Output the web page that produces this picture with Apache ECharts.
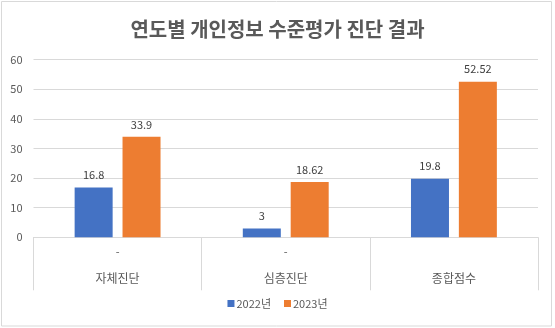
<!DOCTYPE html>
<html><head><meta charset="utf-8">
<script src="https://cdn.jsdelivr.net/npm/echarts@6/dist/echarts.min.js"></script>
<style>html,body{margin:0;padding:0;background:#fff}#c{width:555px;height:328px}</style>
</head><body><div id="c"></div>
<script>
const title = '연도별 개인정보 수준평가 진단 결과';
const categories = ['자체진단', '심층진단', '종합점수'];
const subLabels = ['-', '-', ''];
const seriesNames = ['2022년', '2023년'];
const values2022 = [16.8, 3, 19.8];
const values2023 = [33.9, 18.62, 52.52];
const yTicks = { min: 0, max: 60, interval: 10 };

const FONT = '"Noto Sans CJK KR", "Noto Sans", sans-serif';
const chart = echarts.init(document.getElementById('c'), null, { renderer: 'canvas' });
const labelOpt = { show: true, position: 'top', distance: 7, color: '#404040', fontSize: 11, fontFamily: FONT };
chart.setOption({
  animation: false,
  textStyle: { fontFamily: FONT },
  graphic: [{ type: 'rect', shape: { x: 1.5, y: 1.5, width: 550, height: 324.5 }, style: { fill: 'none', stroke: '#d9d9d9', lineWidth: 1 }, silent: true }],
  title: { text: title, left: 'center', top: 14, textStyle: { fontSize: 20, fontWeight: 'bold', color: '#595959', fontFamily: FONT } },
  grid: { left: 33.5, right: 17, top: 59.5, bottom: 90.7 },
  legend: {
    bottom: 14, left: 'center', itemWidth: 7, itemHeight: 7, itemGap: 13,
    icon: 'rect',
    textStyle: { fontSize: 11, color: '#595959', fontFamily: FONT, padding: [0, 0, 0, -3] },
    data: seriesNames
  },
  xAxis: {
    type: 'category', data: categories,
    axisLine: { show: true, lineStyle: { color: '#d9d9d9' } },
    axisTick: { show: true, length: 53, lineStyle: { color: '#d9d9d9' } },
    axisLabel: {
      margin: 8, interval: 0,
      formatter: (v, i) => '{a|' + (subLabels[i] || ' ') + '}\n{b|' + v + '}',
      rich: {
        a: { fontSize: 11, color: '#595959', lineHeight: 14, fontFamily: FONT },
        b: { fontSize: 12, color: '#595959', lineHeight: 38, fontFamily: FONT }
      }
    }
  },
  yAxis: {
    type: 'value', min: yTicks.min, max: yTicks.max, interval: yTicks.interval,
    axisLine: { show: false }, axisTick: { show: false },
    axisLabel: { margin: 11, fontSize: 11, color: '#595959', fontFamily: FONT },
    splitLine: { lineStyle: { color: '#d9d9d9' } }
  },
  series: [
    { name: seriesNames[0], type: 'bar', data: values2022, barWidth: '22.6%', barGap: '26%', itemStyle: { color: '#4472C4' }, label: labelOpt },
    { name: seriesNames[1], type: 'bar', data: values2023, barWidth: '22.6%', itemStyle: { color: '#ED7D31' }, label: labelOpt }
  ]
});
</script></body></html>
